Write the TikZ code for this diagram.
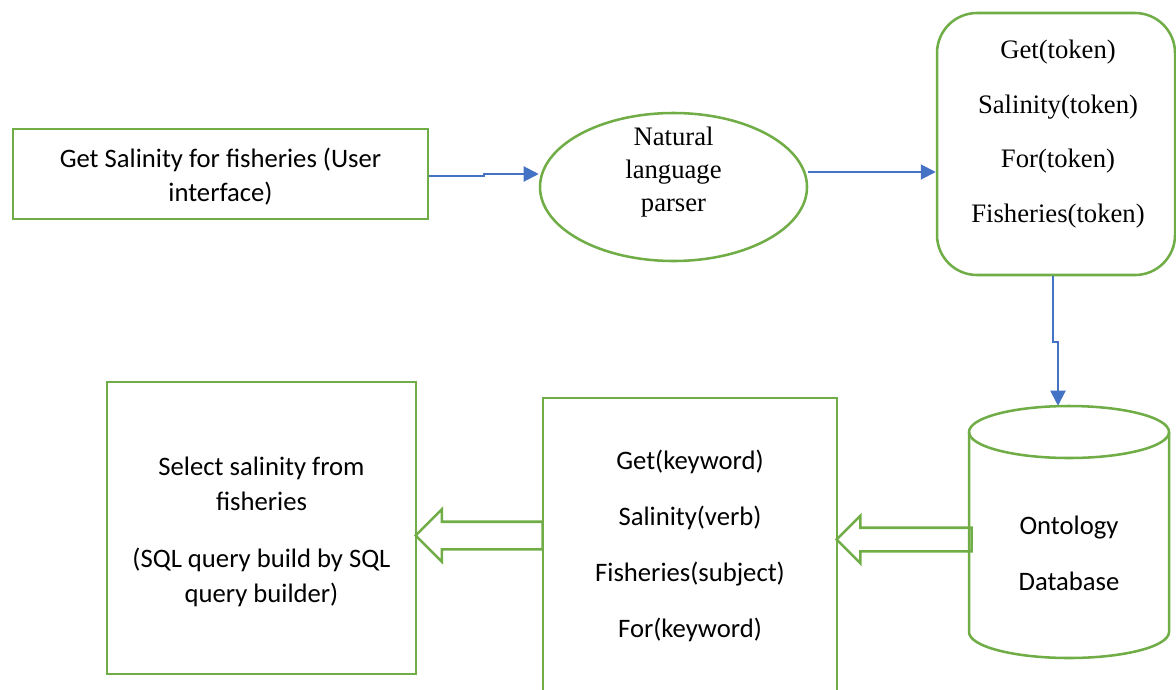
\documentclass[tikz,border=0pt]{standalone}
\usepackage{fontspec}
\setmainfont{Liberation Serif}
\newfontfamily\calibri{Carlito}
\usetikzlibrary{arrows.meta,shapes.geometric,shapes.arrows}

\definecolor{boxgreen}{RGB}{112,173,71}
\definecolor{linkblue}{RGB}{68,114,196}

\tikzset{
  box/.style={draw=boxgreen, line width=1.9pt, rectangle, inner sep=0pt},
  sans/.style={font=\calibri\fontsize{20}{#1}\selectfont, align=center},
  serif/.style={font=\fontsize{20}{#1}\selectfont, align=center},
  flow/.style={draw=linkblue, line width=1.5pt, -{Triangle[length=11.25pt,width=11.25pt]}},
  hollow/.style={draw=boxgreen, line width=1.9pt, single arrow, rotate=180},
}

\begin{document}
\begin{tikzpicture}[x=0.75pt,y=0.75pt,yscale=-1,xscale=1]
    \useasboundingbox (0,0) rectangle (1176,689);
    \clip (0,0) rectangle (1176,689);

    % User interface
    \node [box, minimum width=311.25pt, minimum height=67.5pt] (ui) at (220.5,174) {};
    \node [sans=25.5pt] (uilabel) at (220.5,177) {Get Salinity for fisheries (User\\interface)};

    % Parser
    \node [box, ellipse, minimum width=200.25pt, minimum height=111pt] (parser) at (673.5,187) {};
    \node [serif=25pt] (parserlabel) at (673.5,172) {Natural\\language\\parser};

    % Tokens
    \node [box, rounded corners=30pt, minimum width=178.5pt, minimum height=196.5pt] (tokens) at (1056,144) {};
    \node [serif=41pt] (tokenlabel) at (1058,134) {Get(token)\\Salinity(token)\\For(token)\\Fisheries(token)};

    % Ontology database
    \node [inner sep=0pt, minimum width=150pt, minimum height=189pt] (db) at (1069,532) {};
    \draw [boxgreen, line width=1.9pt] (1069,432) ellipse [x radius=100, y radius=26];
    \draw [boxgreen, line width=1.9pt] (969,432) -- (969,632) arc [start angle=180, end angle=0, x radius=100, y radius=26] -- (1169,432);
    \node [sans=42pt] (dblabel) at (1069,553) {Ontology\\Database};

    % Keywords
    \node [box, minimum width=220.5pt, minimum height=226.5pt] (keywords) at (690,549) {};
    \node [sans=42pt] (keywordlabel) at (690,545.5) {Get(keyword)\\Salinity(verb)\\Fisheries(subject)\\For(keyword)};

    % SQL query
    \node [box, minimum width=231.75pt, minimum height=219pt] (query) at (261.5,528) {};
    \node [sans=26.25pt] (querylabel) at (261.5,532) {Select salinity from\\fisheries\\[16.5pt](SQL query build by SQL\\query builder)};

    % Arrows
    \draw [flow] ([yshift=1.5pt]ui.east) -- ++(55,0) |- ([yshift=-9.75pt]parser.west);
    \draw [flow] ([yshift=-11.25pt]parser.east) -- ([yshift=21pt]tokens.west);
    \draw [flow] ([xshift=-2.25pt]tokens.south) -- ++(0,66) -| ([xshift=-8.25pt]db.north);

    \node [hollow, minimum height=101.25pt, minimum width=33.75pt, inner sep=7.875pt, single arrow head extend=9pt] (dbarrow) at (910,539.5) {};
    \node [hollow, minimum height=95.25pt, minimum width=37.5pt, inner sep=9.375pt, single arrow head extend=9.375pt] (queryarrow) at (486,535.5) {};

\end{tikzpicture}
\end{document}
